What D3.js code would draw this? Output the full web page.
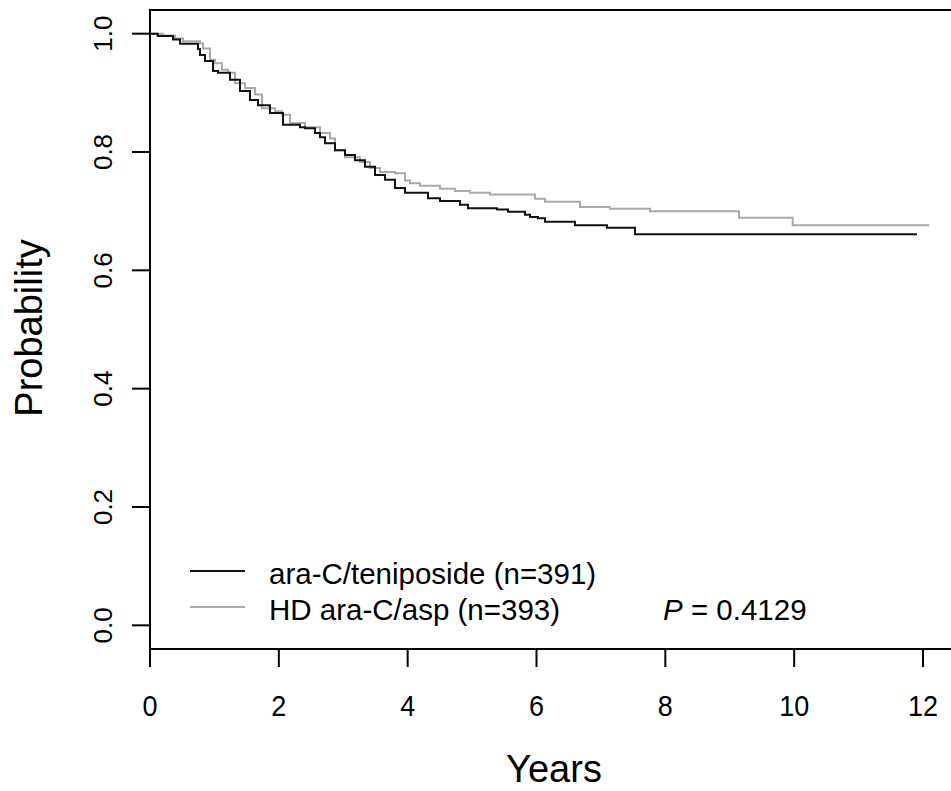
<!DOCTYPE html>
<meta charset="utf-8">
<style>
body { margin: 0; background: #fff; }
text { font-family: "Liberation Sans", Arial, sans-serif; fill: #000; }
.frame line, .ticks line { stroke: #000; stroke-width: 2px; }
.km { fill: none; stroke-width: 2px; }
</style>
<svg width="951" height="791"></svg>
<script src="https://d3js.org/d3.v7.min.js"></script>
<script>
// years of follow-up and survival probability (step after each time)
var blackTimes = [0, 0.12, 0.357, 0.466, 0.745, 0.776, 0.854, 0.978, 1.056, 1.242, 1.397, 1.552, 1.677, 1.863, 2.065, 2.328, 2.406, 2.561, 2.639, 2.717, 2.872, 3.027, 3.182, 3.337, 3.493, 3.648, 3.803, 3.958, 4.315, 4.502, 4.812, 4.936, 5.387, 5.557, 5.821, 5.899, 6.023, 6.132, 6.597, 7.094, 7.529, 11.906];
var blackSurv  = [1.000, 0.996, 0.990, 0.983, 0.974, 0.964, 0.954, 0.937, 0.934, 0.922, 0.903, 0.888, 0.879, 0.866, 0.846, 0.842, 0.840, 0.832, 0.825, 0.815, 0.803, 0.795, 0.786, 0.775, 0.761, 0.753, 0.739, 0.731, 0.722, 0.717, 0.711, 0.705, 0.703, 0.699, 0.694, 0.690, 0.688, 0.682, 0.676, 0.672, 0.661, 0.661];

var grayTimes = [0, 0.2, 0.388, 0.512, 0.776, 0.823, 0.931, 1.009, 1.118, 1.211, 1.319, 1.475, 1.630, 1.739, 1.940, 2.049, 2.173, 2.406, 2.639, 2.794, 2.872, 3.027, 3.260, 3.415, 3.570, 3.803, 3.958, 4.036, 4.191, 4.502, 4.734, 4.967, 5.278, 5.976, 6.132, 6.675, 7.140, 7.762, 9.143, 9.977, 12.097];
var graySurv  = [1.000, 0.997, 0.992, 0.987, 0.984, 0.975, 0.956, 0.950, 0.939, 0.934, 0.916, 0.908, 0.897, 0.874, 0.869, 0.863, 0.849, 0.842, 0.832, 0.823, 0.803, 0.791, 0.783, 0.773, 0.766, 0.764, 0.752, 0.747, 0.743, 0.738, 0.734, 0.731, 0.728, 0.721, 0.716, 0.707, 0.704, 0.700, 0.689, 0.676, 0.676];

var xTicks = [0, 2, 4, 6, 8, 10, 12];
var yTicks = [0, 0.2, 0.4, 0.6, 0.8, 1.0];
var legendLabels = ["ara-C/teniposide (n=391)", "HD ara-C/asp (n=393)"];
var pValue = "0.4129";

var svg = d3.select("svg");

var x = d3.scaleLinear().domain([0, 12]).range([150, 923]);
var y = d3.scaleLinear().domain([-0.04, 1.04]).range([649, 10]);

// box (right side runs off the picture)
var frame = svg.append("g").attr("class", "frame");
frame.append("line").attr("x1", 150).attr("x2", 960).attr("y1", 10).attr("y2", 10);
frame.append("line").attr("x1", 150).attr("x2", 960).attr("y1", 649).attr("y2", 649);
frame.append("line").attr("x1", 150).attr("x2", 150).attr("y1", 9).attr("y2", 650);

var ticks = svg.append("g").attr("class", "ticks");
ticks.selectAll(".xt").data(xTicks).enter().append("line")
    .attr("x1", function(d) { return x(d); }).attr("x2", function(d) { return x(d); })
    .attr("y1", 649).attr("y2", 667);
ticks.selectAll(".xl").data(xTicks).enter().append("text")
    .attr("transform", function(d) { return "translate(" + x(d) + ",716) scale(1,1.1)"; })
    .attr("text-anchor", "middle").style("font-size", "27px")
    .text(function(d) { return d; });

ticks.selectAll(".yt").data(yTicks).enter().append("line")
    .attr("x1", 132).attr("x2", 150)
    .attr("y1", function(d) { return y(d); }).attr("y2", function(d) { return y(d); });
ticks.selectAll(".yl").data(yTicks).enter().append("text")
    .attr("transform", function(d) { return "translate(112," + y(d) + ") rotate(-90)"; })
    .attr("text-anchor", "middle").style("font-size", "26px")
    .text(function(d) { return d.toFixed(1); });

svg.append("text").attr("x", 554).attr("y", 782)
    .attr("text-anchor", "middle").style("font-size", "38px").text("Years");
svg.append("text").attr("transform", "translate(42,328) rotate(-90)")
    .attr("text-anchor", "middle").style("font-size", "38px").text("Probability");

// survival curves
var line = d3.line().curve(d3.curveStepAfter)
    .x(function(d) { return x(d[0]); })
    .y(function(d) { return y(d[1]); });

svg.append("path").attr("class", "km").attr("stroke", "#a9a9a9")
    .attr("d", line(d3.zip(grayTimes, graySurv)));
svg.append("path").attr("class", "km").attr("stroke", "#111")
    .attr("d", line(d3.zip(blackTimes, blackSurv)));

// legend
var legColors = ["#111", "#a9a9a9"];
var leg = svg.append("g");
leg.selectAll("line").data(legendLabels).enter().append("line")
    .attr("x1", 190).attr("x2", 245)
    .attr("y1", function(d, i) { return 571 + i * 36; })
    .attr("y2", function(d, i) { return 571 + i * 36; })
    .attr("stroke", function(d, i) { return legColors[i]; })
    .attr("stroke-width", 2);
leg.selectAll("text").data(legendLabels).enter().append("text")
    .attr("x", 269).attr("y", function(d, i) { return 584 + i * 36; })
    .style("font-size", "29.5px")
    .text(function(d) { return d; });

var pt = svg.append("text").attr("x", 663).attr("y", 620).style("font-size", "29.5px");
pt.append("tspan").style("font-style", "italic").text("P");
pt.append("tspan").text(" = " + pValue);
</script>
